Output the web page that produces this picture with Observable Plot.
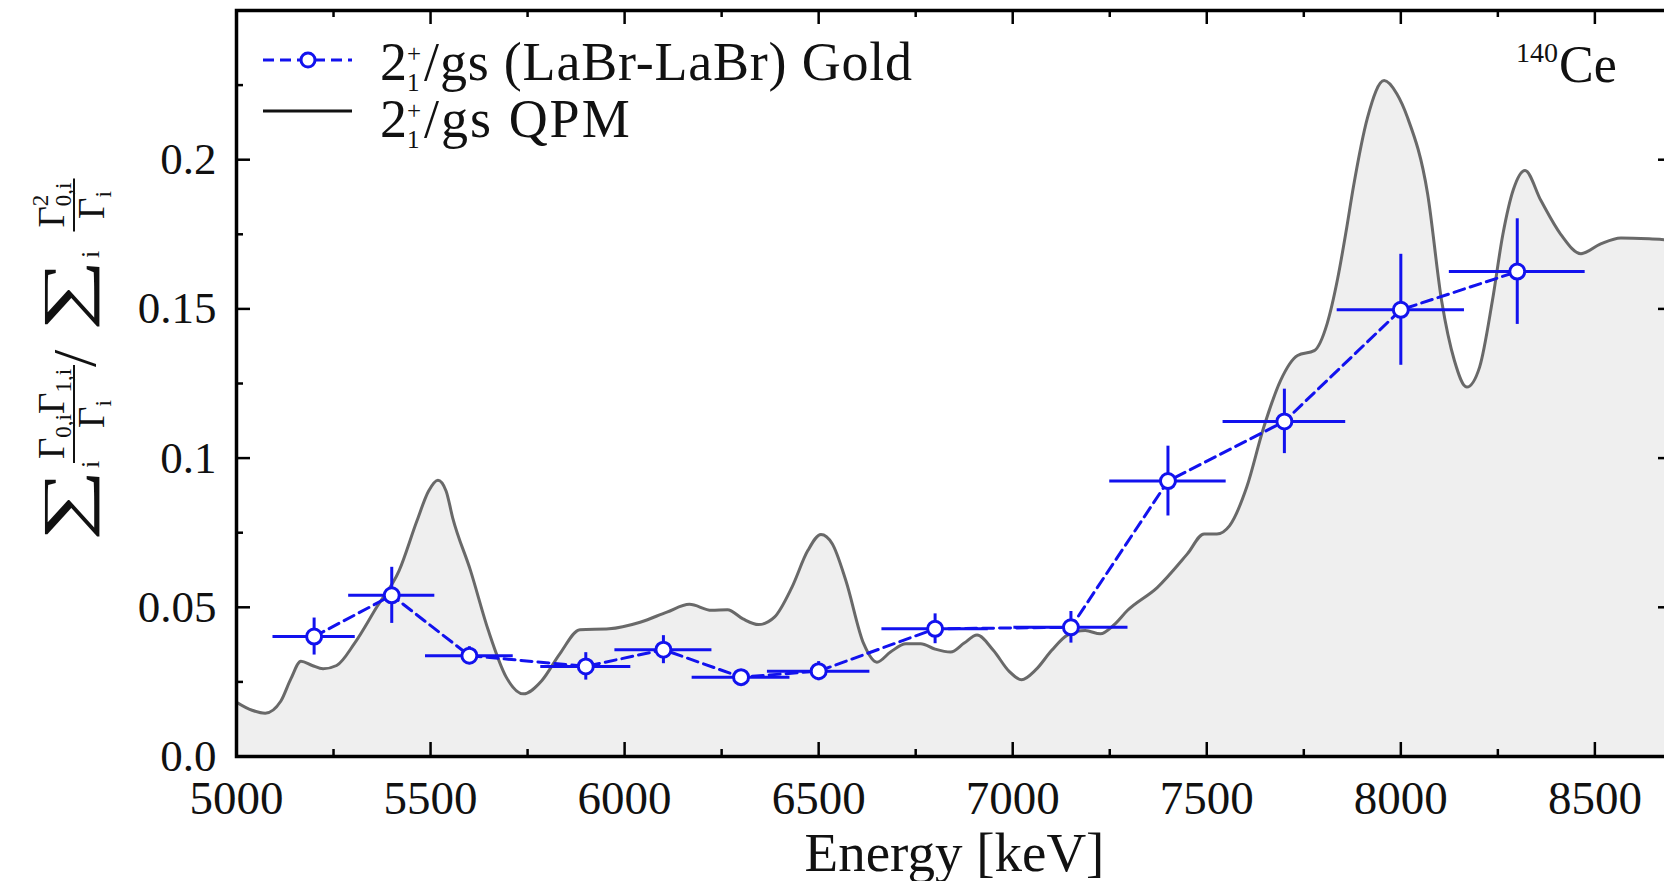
<!DOCTYPE html>
<html>
<head>
<meta charset="utf-8">
<script src="https://cdn.jsdelivr.net/npm/d3@7"></script>
<script src="https://cdn.jsdelivr.net/npm/@observablehq/plot@0.6"></script>
<style>
  html, body { margin: 0; padding: 0; background: #fff; overflow: hidden; }
  #chart { position: relative; width: 1664px; height: 881px; overflow: hidden; }
  #chart svg { max-width: none !important; }
</style>
</head>
<body>
<div id="chart"></div>
<script>
// QPM strength curve (energy in keV, ratio)
const qpmEnergy = [5000, 5040, 5074, 5114, 5140, 5166, 5195, 5223, 5258, 5304, 5361, 5419, 5465, 5495, 5519, 5540, 5557, 5603, 5649, 5695, 5739, 5787, 5833, 5885, 5960, 6040, 6109, 6167, 6224, 6265, 6305, 6345, 6386, 6431, 6472, 6506, 6535, 6570, 6616, 6650, 6685, 6725, 6763, 6800, 6840, 6875, 6908, 6950, 6991, 7023, 7059, 7100, 7141, 7187, 7226, 7260, 7296, 7373, 7450, 7493, 7526, 7559, 7603, 7646, 7690, 7734, 7777, 7810, 7837, 7859, 7878, 7914, 7957, 7990, 8017, 8069, 8105, 8138, 8170, 8203, 8236, 8263, 8290, 8320, 8361, 8412, 8464, 8515, 8567, 8640, 8700];
const qpmRatio = [0.0182, 0.0155, 0.0145, 0.0185, 0.026, 0.0319, 0.0305, 0.0294, 0.0305, 0.0379, 0.050, 0.0623, 0.079, 0.089, 0.0926, 0.089, 0.080, 0.0623, 0.0422, 0.0266, 0.021, 0.0255, 0.0344, 0.0425, 0.0428, 0.045, 0.0484, 0.051, 0.049, 0.0492, 0.0461, 0.0442, 0.0467, 0.0567, 0.069, 0.0744, 0.0713, 0.059, 0.0378, 0.0316, 0.035, 0.0378, 0.0378, 0.036, 0.035, 0.038, 0.0407, 0.0356, 0.0285, 0.0257, 0.029, 0.0355, 0.0407, 0.0422, 0.0411, 0.044, 0.049, 0.0567, 0.0679, 0.0746, 0.0746, 0.0774, 0.0903, 0.110, 0.126, 0.1344, 0.136, 0.145, 0.160, 0.176, 0.191, 0.214, 0.2265, 0.222, 0.2142, 0.1886, 0.1528, 0.1327, 0.1238, 0.1305, 0.1528, 0.175, 0.190, 0.1964, 0.1863, 0.175, 0.1685, 0.1718, 0.1738, 0.1735, 0.1730];

// Measured 2+1/gs ratios (LaBr-LaBr, Gold unfolding)
const expEnergy = [5200, 5400, 5600, 5900, 6100, 6300, 6500, 6800, 7150, 7400, 7700, 8000, 8300];
const expEnergyErr = [106, 111, 113, 116, 125, 126, 132, 137, 147, 150, 158, 164, 175];
const expRatio = [0.0402, 0.0540, 0.0338, 0.0302, 0.0358, 0.0266, 0.0286, 0.0428, 0.0433, 0.0923, 0.1123, 0.1497, 0.1625];
const expRatioErr = [0.0062, 0.0094, 0.0030, 0.0046, 0.0047, 0.0022, 0.0032, 0.0050, 0.0053, 0.0117, 0.0108, 0.0186, 0.0177];

// Axis ticks
const xTicks = [5000, 5500, 6000, 6500, 7000, 7500, 8000, 8500];
const xMinorTicks = [5250, 5750, 6250, 6750, 7250, 7750, 8250];
const yTicks = [0, 0.05, 0.1, 0.15, 0.2];
const yTickLabels = ["0.0", "0.05", "0.1", "0.15", "0.2"];
const yMinorTicks = [0.025, 0.075, 0.125, 0.175, 0.225];

const FONT = "Liberation Serif";
const BLUE = "#1212ee";
const INK = "#111";
const W = 1700, H = 881, mL = 236, mR = 28, mT = 10, mB = 125;
const fw = W - mL - mR, fh = H - mT - mB;
const MAJOR = 14, MINOR = 7;

const qpm = qpmEnergy.map((e, i) => ({e, v: qpmRatio[i]}));
const exp = expEnergy.map((e, i) => ({e, de: expEnergyErr[i], v: expRatio[i], dv: expRatioErr[i]}));

const tickStyle = {stroke: "black", strokeWidth: 2.5};

const chart = Plot.plot({
  width: W, height: H,
  marginLeft: mL, marginRight: mR, marginTop: mT, marginBottom: mB,
  style: {fontFamily: FONT, background: "white", color: INK, overflow: "visible", maxWidth: "none"},
  x: {domain: [5000, 8700]},
  y: {domain: [0, 0.25]},
  marks: [
    Plot.areaY(qpm, {x: "e", y: "v", fill: "#efefef", curve: "monotone-x", clip: "frame"}),
    Plot.line(qpm, {x: "e", y: "v", stroke: "#696969", strokeWidth: 3, curve: "monotone-x", clip: "frame"}),
    Plot.ruleY(exp, {y: "v", x1: d => d.e - d.de, x2: d => d.e + d.de, stroke: BLUE, strokeWidth: 3}),
    Plot.ruleX(exp, {x: "e", y1: d => d.v - d.dv, y2: d => d.v + d.dv, stroke: BLUE, strokeWidth: 3}),
    Plot.line(exp, {x: "e", y: "v", stroke: BLUE, strokeWidth: 3, strokeDasharray: "11,6"}),
    Plot.dot(exp, {x: "e", y: "v", r: 7.5, fill: "white", stroke: BLUE, strokeWidth: 3}),
    // inward ticks on all four sides
    Plot.tickX(xTicks, {x: d => d, insetTop: fh - MAJOR, ...tickStyle}),
    Plot.tickX(xTicks, {x: d => d, insetBottom: fh - MAJOR, ...tickStyle}),
    Plot.tickX(xMinorTicks, {x: d => d, insetTop: fh - MINOR, ...tickStyle}),
    Plot.tickX(xMinorTicks, {x: d => d, insetBottom: fh - MINOR, ...tickStyle}),
    Plot.tickY(yTicks, {y: d => d, insetRight: fw - MAJOR, ...tickStyle}),
    Plot.tickY(yTicks, {y: d => d, insetLeft: fw - MAJOR, ...tickStyle}),
    Plot.tickY(yMinorTicks, {y: d => d, insetRight: fw - MINOR, ...tickStyle}),
    Plot.tickY(yMinorTicks, {y: d => d, insetLeft: fw - MINOR, ...tickStyle}),
    Plot.axisX(xTicks, {tickSize: 0, tickPadding: 24, fontSize: 47, label: null, tickFormat: d => String(d)}),
    Plot.axisY(yTicks, {tickSize: 0, tickPadding: 20, fontSize: 45, label: null, tickFormat: d => yTickLabels[yTicks.indexOf(d)]}),
    Plot.frame({stroke: "black", strokeWidth: 3.5}),
    Plot.text(["Energy [keV]"], {frameAnchor: "bottom", dy: 114, fontSize: 55, fill: INK})
  ]
});

document.getElementById("chart").appendChild(chart);
const svg = d3.select(chart);

// Lays out a run of text pieces left to right; a piece with hold:true shares its
// start position with the next piece (stacked super/subscripts).
function run(g, x0, y0, pieces) {
  let x = x0, held = null;
  for (const p of pieces) {
    const start = held ? held.x : x;
    const t = g.append("text")
      .attr("x", start).attr("y", y0 + (p.dy || 0))
      .attr("text-anchor", "start")
      .attr("font-family", FONT).attr("font-size", p.size)
      .attr("letter-spacing", p.spacing || null)
      .attr("fill", INK)
      .text(p.t);
    if (p.length) t.attr("textLength", p.length).attr("lengthAdjust", "spacingAndGlyphs");
    const w = p.length || t.node().getComputedTextLength();
    if (p.hold) { held = {x: start, w}; continue; }
    if (held) { x = start + Math.max(held.w, w); held = null; }
    else x = start + w;
    x += p.gap || 0;
  }
  return x;
}

// Legend
const leg = svg.append("g");
leg.append("line").attr("x1", 263).attr("x2", 352).attr("y1", 60).attr("y2", 60)
  .attr("stroke", BLUE).attr("stroke-width", 3).attr("stroke-dasharray", "11,6");
leg.append("circle").attr("cx", 308).attr("cy", 60).attr("r", 7)
  .attr("fill", "white").attr("stroke", BLUE).attr("stroke-width", 3);
run(leg, 380, 80, [
  {t: "2", size: 54},
  {t: "+", size: 25, dy: -18, hold: true},
  {t: "1", size: 25, dy: 10.5, gap: 3},
  {t: "/gs (LaBr-LaBr) Gold", size: 54, spacing: 0.8}
]);
leg.append("line").attr("x1", 263).attr("x2", 352).attr("y1", 111).attr("y2", 111)
  .attr("stroke", INK).attr("stroke-width", 3);
run(leg, 380, 137, [
  {t: "2", size: 54},
  {t: "+", size: 25, dy: -18, hold: true},
  {t: "1", size: 25, dy: 10.5, gap: 3},
  {t: "/gs QPM", size: 54, spacing: 2}
]);

// Nucleus label
const nuc = svg.append("g");
run(nuc, 1516, 82, [
  {t: "140", size: 28, dy: -20, gap: 1},
  {t: "Ce", size: 52}
]);

// Rotated y-axis label: sum_i (G0,i G1,i / Gi) / sum_i (G0,i^2 / Gi)
// local frame: u runs upward along the axis, v points right (0 = fraction bars)
const yl = svg.append("g").attr("transform", "translate(74,541) rotate(-90)");
function fraction(g, u0, u1, num, den) {
  const ng = g.append("g"), dg = g.append("g");
  const nw = run(ng, 0, -10, num);
  const dw = run(dg, 0, 30, den);
  const w = Math.max(nw, dw) + 8;
  const c = (u0 + u1) / 2;
  ng.attr("transform", `translate(${c - nw / 2},0)`);
  dg.attr("transform", `translate(${c - dw / 2},0)`);
  g.append("line").attr("x1", c - w / 2).attr("x2", c + w / 2).attr("y1", 0).attr("y2", 0)
    .attr("stroke", INK).attr("stroke-width", 2);
}
run(yl, 0, 0, [{t: "\u2211", size: 63, dy: 12, length: 72}]);
run(yl, 73, 0, [{t: "i", size: 26, dy: 25}]);
fraction(yl, 88, 166, [
  {t: "\u0393", size: 37}, {t: "0,i", size: 23, dy: 7},
  {t: "\u0393", size: 37}, {t: "1,i", size: 23, dy: 7}
], [{t: "\u0393", size: 37}, {t: "i", size: 23, dy: 7}]);
run(yl, 174, 0, [{t: "/", size: 62, dy: 21}]);
run(yl, 210, 0, [{t: "\u2211", size: 63, dy: 12, length: 72}]);
run(yl, 283, 0, [{t: "i", size: 26, dy: 25}]);
fraction(yl, 300, 372, [
  {t: "\u0393", size: 37}, {t: "2", size: 23, dy: -16, hold: true}, {t: "0,i", size: 23, dy: 7}
], [{t: "\u0393", size: 37}, {t: "i", size: 23, dy: 7}]);
</script>
</body>
</html>
